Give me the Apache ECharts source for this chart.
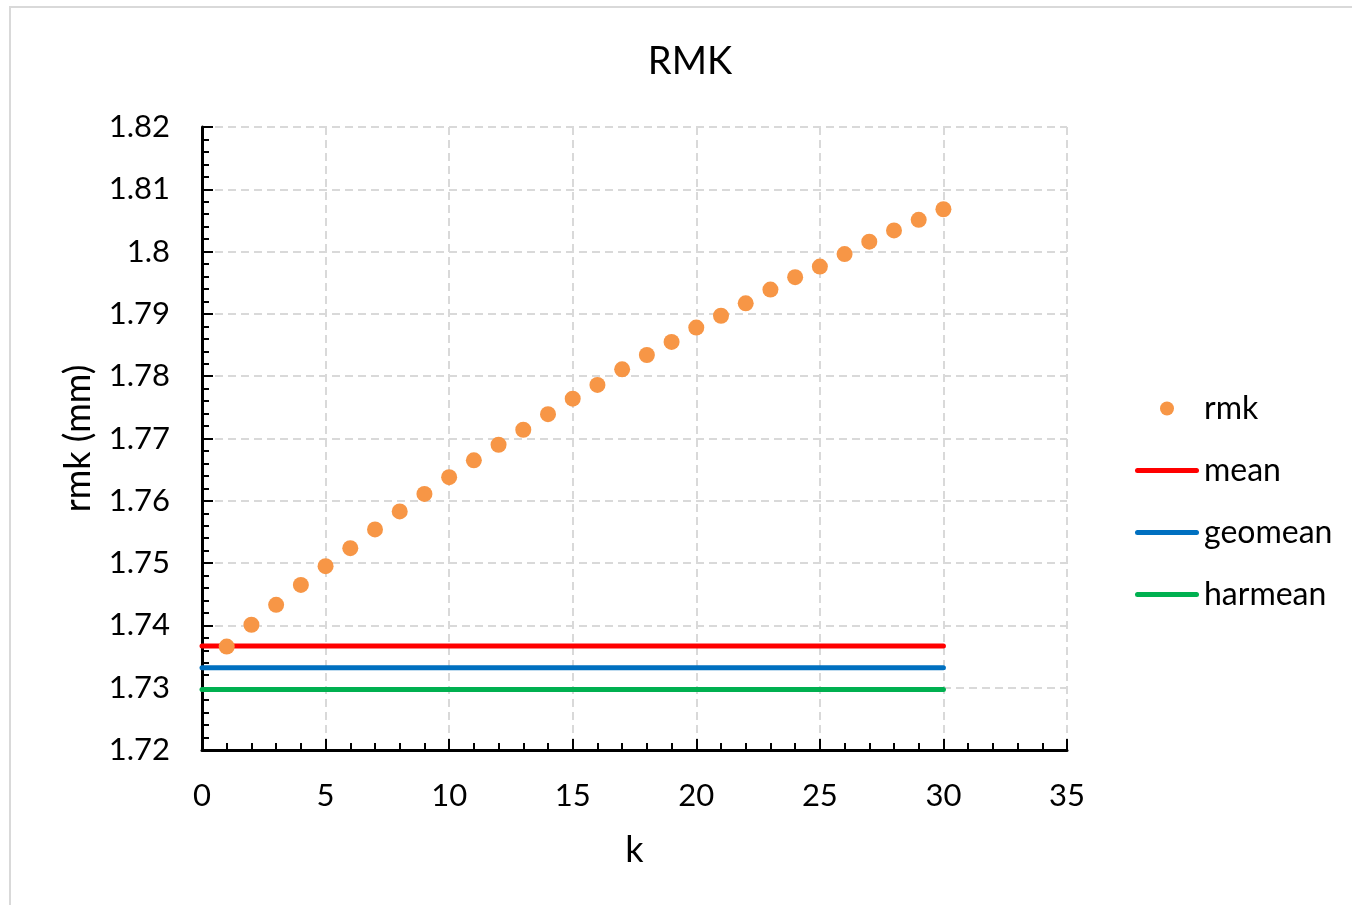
<!DOCTYPE html>
<html><head><meta charset="utf-8">
<script src="https://cdn.jsdelivr.net/npm/echarts@6/dist/echarts.min.js"></script>
<style>html,body{margin:0;padding:0;background:#fff}#c{width:1352px;height:905px}</style>
</head><body><div id="c"></div>
<script>
var kValues = [1,2,3,4,5,6,7,8,9,10,11,12,13,14,15,16,17,18,19,20,21,22,23,24,25,26,27,28,29,30];
var rmkValues = [1.7366,1.7401,1.7433,1.7465,1.7495,1.7524,1.7554,1.7583,1.7611,1.7638,1.7665,1.7690,1.7714,1.7739,1.7764,1.7786,1.7811,1.7834,1.7855,1.7878,1.7897,1.7917,1.7939,1.7959,1.7976,1.7996,1.8016,1.8034,1.8051,1.8068];
var meanValue = 1.7367;
var geomeanValue = 1.7332;
var harmeanValue = 1.7297;
var lineRange = [0, 30];

var font = 'Lato, "Open Sans", sans-serif';
var lineIcon = 'path://M2.5,0 L61.5,0 A2.5,2.5 0 0 1 61.5,5 L2.5,5 A2.5,2.5 0 0 1 2.5,0 Z';
var chart = echarts.init(document.getElementById('c'));
function hline(v){ return [[lineRange[0], v],[lineRange[1], v]]; }
chart.setOption({
  animation:false,
  backgroundColor:'#fff',
  graphic:[{type:'rect',shape:{x:10,y:7,width:1400,height:1000},style:{fill:'none',stroke:'#d9d9d9',lineWidth:2},silent:true}],
  title:{text:'RMK',left:685,top:38,textAlign:'center',textStyle:{fontFamily:font,fontSize:38,fontWeight:'normal',color:'#000'}},
  grid:{left:202,right:285,top:127,bottom:155},
  legend:{orient:'vertical',left:1135,top:391,padding:0,itemGap:27,itemWidth:64,itemHeight:14,
    textStyle:{fontFamily:font,fontSize:32,lineHeight:35,color:'#000',padding:[0,0,0,0]},
    data:[{name:'rmk',icon:'circle',itemStyle:{color:'#F79646',opacity:1}},
      {name:'mean',icon:lineIcon,itemStyle:{color:'#FF0000'},lineStyle:{width:0}},
      {name:'geomean',icon:lineIcon,itemStyle:{color:'#0070C0'},lineStyle:{width:0}},
      {name:'harmean',icon:lineIcon,itemStyle:{color:'#00B050'},lineStyle:{width:0}}]},
  xAxis:{type:'value',min:0,max:35,interval:5,name:'k',nameLocation:'middle',nameGap:82,
    nameTextStyle:{fontFamily:font,fontSize:36,color:'#000'},
    axisLine:{lineStyle:{color:'#000',width:3}},
    axisTick:{inside:true,length:11,lineStyle:{color:'#000',width:2}},
    minorTick:{show:true,splitNumber:5,length:7,lineStyle:{color:'#000',width:2}},
    axisLabel:{fontFamily:font,fontSize:31,color:'#000',margin:30},
    splitLine:{show:true,lineStyle:{color:'#d9d9d9',type:[8,5],width:2}}},
  yAxis:{type:'value',min:1.72,max:1.82,interval:0.01,name:'rmk (mm)',nameLocation:'middle',nameGap:106,
    nameTextStyle:{fontFamily:font,fontSize:36,color:'#000'},
    axisLine:{show:true,lineStyle:{color:'#000',width:3}},
    axisTick:{show:true,inside:true,length:11,lineStyle:{color:'#000',width:2}},
    minorTick:{show:true,splitNumber:5,length:7,lineStyle:{color:'#000',width:2}},
    axisLabel:{fontFamily:font,fontSize:31,color:'#000',margin:32},
    splitLine:{show:true,lineStyle:{color:'#d9d9d9',type:[8,5],width:2}}},
  series:[
    {name:'rmk',type:'scatter',symbolSize:16,itemStyle:{color:'#F79646',opacity:1},
     data:kValues.map(function(k,i){return [k,rmkValues[i]];}),z:5},
    {name:'mean',type:'line',symbol:'none',data:hline(meanValue),lineStyle:{color:'#FF0000',width:5,cap:'round'},itemStyle:{color:'#FF0000'},z:3},
    {name:'geomean',type:'line',symbol:'none',data:hline(geomeanValue),lineStyle:{color:'#0070C0',width:5,cap:'round'},itemStyle:{color:'#0070C0'},z:3},
    {name:'harmean',type:'line',symbol:'none',data:hline(harmeanValue),lineStyle:{color:'#00B050',width:5,cap:'round'},itemStyle:{color:'#00B050'},z:3}
  ]
});
</script></body></html>
